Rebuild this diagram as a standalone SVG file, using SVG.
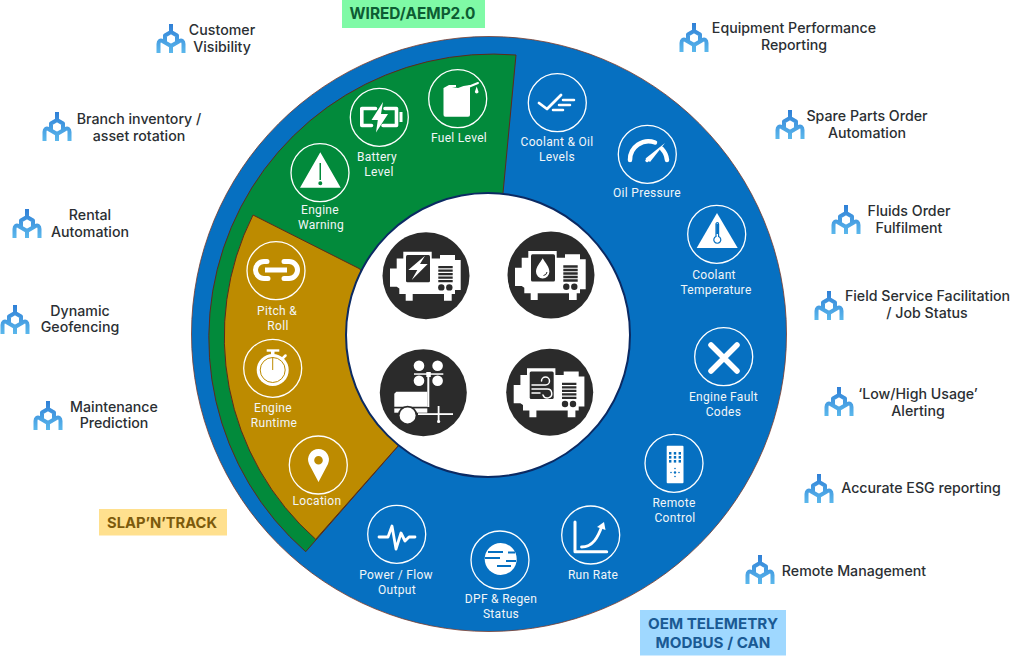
<svg xmlns="http://www.w3.org/2000/svg" xmlns:xlink="http://www.w3.org/1999/xlink" width="1024" height="661" viewBox="0 0 1024 661">
<style>
text{font-family:"Roboto","Liberation Sans",sans-serif}
.lb{font-family:"Inter","Roboto",sans-serif;font-size:14.2px;fill:#2b2f33;font-weight:500;text-anchor:middle}
.w{font-size:12px;fill:#f2f6f8;text-anchor:middle;letter-spacing:.3px}
.ring{fill:none;stroke:#fff;stroke-width:1.3}
.ic{fill:#fff}
.tag{font-family:"Inter","Roboto",sans-serif;font-size:14.700px;font-weight:700;text-anchor:middle}
.wl{fill:none;stroke:#fff;stroke-linecap:round;stroke-linejoin:round}
</style>
<defs>
<linearGradient id="hg" gradientUnits="userSpaceOnUse" x1="0" y1="-15" x2="0" y2="14"><stop offset="0" stop-color="#2f7fd6"/><stop offset="1" stop-color="#5bb8ec"/></linearGradient>
<g id="hub">
<path fill="none" stroke="url(#hg)" stroke-width="4" stroke-linejoin="round" stroke-linecap="butt" d="M0-15V-7M-6-3.500 0-7 6-3.500V3.500L0 7-6 3.500ZM-6 3.500-8.500 2C-10.500 .8-12.500 2-12.500 5V14M6 3.500 8.500 2C10.500 .8 12.500 2 12.500 5V14M0 7V14"/>
</g>
<g id="gen">
<circle r="43.500" fill="#2b2b2b"/>
<path fill="#fff" d="M-36-7.300H-29.300V-17.300H-22.700V-24H5.700V-17.300H14V-20.700H29V-15.700H34.700V14.300H29V18.300H25.700V25H18V18.300H-13.300V25H-20.300V18.300H-26.700V12.700L-29.300 11H-36Z"/>
<rect x="-20" y="-20.700" width="24" height="27.300" rx="1.500" fill="#2b2b2b"/>
<path stroke="#2b2b2b" stroke-width="2.300" d="M12.300-8.500H26.700M12.300-5H26.700M12.300-1.500H26.700M12.300 2H26.700M12.300 5.500H26.700" />
<circle cx="15.300" cy="11.700" r="3.200" fill="#2b2b2b"/><circle cx="23.300" cy="11.700" r="3.200" fill="#2b2b2b"/>
</g>
</defs>
<rect width="1024" height="661" fill="#fff"/>

<g id="dial">
<circle cx="489" cy="334" r="297.500" fill="#0670c1" stroke="#7a3a2a" stroke-width=".8"/>
<path id="wedge-green" fill="#028a3b" stroke="#5d2a1c" stroke-width="1" d="M516 55A284 284 0 0 0 305.700 551.700L420 421 503 193Z"/>
<path id="wedge-gold" fill="#bd8b00" stroke="#5d2a1c" stroke-width="1" d="M253 215A271 271 0 0 0 315.700 539.300L420 421 360 269Z"/>
<circle id="hubface" cx="488" cy="335" r="142" fill="#fff" stroke="#0b2a63" stroke-width="2"/>
</g>

<g id="gen-power"><use xlink:href="#gen" href="#gen" x="426" y="275.700"/>
<path class="ic" d="M425 255.700 408.300 270H417.300L411.700 280 427.700 264H420Z"/></g>
<g id="gen-fluid"><use xlink:href="#gen" href="#gen" x="551" y="275"/>
<path class="ic" d="M542.700 258.300C540 263 536 267 536 271.700A6.700 6.700 0 0 0 549.400 271.700C549.400 267 545.400 263 542.700 258.300Z"/><path fill="none" stroke="#2b2b2b" stroke-width="1" d="M547 272A4 4 0 0 1 543.500 275.500"/></g>
<g id="tower">
<circle cx="423.300" cy="392.700" r="43.500" fill="#2b2b2b"/>
<g fill="#fff"><circle cx="419" cy="365.700" r="5.300"/><circle cx="437.600" cy="365.700" r="5.300"/><circle cx="419" cy="380.700" r="5.300"/><circle cx="437.600" cy="380.700" r="5.300"/>
<rect x="414" y="373.300" width="29.300" height="1.500"/><rect x="426.300" y="372" width="4.500" height="5"/><rect x="427.300" y="376" width="2" height="31"/>
<path d="M396.300 391.700H427.300V406.700H394.300V393.700Z"/><rect x="394.300" y="408.400" width="33" height="4.300"/></g>
<circle cx="407.600" cy="415.400" r="9.700" fill="#2b2b2b"/>
<g fill="#fff"><circle cx="407.600" cy="415.400" r="8"/><rect x="418" y="413.200" width="35" height="1.800"/><rect x="437.700" y="406" width="1.800" height="15"/><circle cx="438.600" cy="421.500" r="1.600"/></g>
</g>
<g id="gen-air"><use xlink:href="#gen" href="#gen" x="549.700" y="392.300"/>
<path fill="none" stroke="#fff" stroke-width="1.500" stroke-linecap="round" d="M532 385H545.500A4 4 0 1 0 541.500 381M532 389H547A4.500 4.500 0 1 1 543 395M532 393H540"/></g>

<g id="n-fuel"><circle class="ring" cx="457.700" cy="98.700" r="29"/>
<path class="ic" d="M443.500 88 449 85H456V87H452L458 88 463.500 86 470 85V114.500A2 2 0 0 1 468 116.700H445.500A2 2 0 0 1 443.500 114.500Z"/><path class="wl" stroke-width="2" d="M467 87.500 478 83"/><path class="ic" d="M476.700 86.500 478.600 92A2 2 0 0 1 474.800 92Z"/>
<text class="w" x="459" y="142">Fuel Level</text></g>
<g id="n-battery"><circle class="ring" cx="379.300" cy="117.300" r="29"/>
<path class="wl" stroke-width="3.600" stroke-linecap="butt" stroke-linejoin="miter" d="M375.500 108.500H361.800V125.500H371.500M385 108.500H396.500V125.500H383"/><rect class="ic" x="399.500" y="112" width="3" height="10"/><path class="ic" d="M383 102 371.500 120H377.800L376 132.500 388 114H381Z"/>
<text class="w" x="377" y="161">Battery</text><text class="w" x="379" y="176">Level</text></g>
<g id="n-warning"><circle class="ring" cx="320" cy="172.700" r="29"/>
<path class="ic" fill-rule="evenodd" d="M320.300 152.300 340.700 187.700H300ZM319.500 163V180H321V163ZM320.300 181.300A2 2 0 1 0 320.300 185.300 2 2 0 1 0 320.300 181.300Z"/>
<text class="w" x="320" y="214">Engine</text><text class="w" x="321" y="229">Warning</text></g>

<g id="n-pitch"><circle class="ring" cx="276" cy="270.700" r="29"/>
<path class="wl" stroke-width="5" stroke-linecap="butt" d="M267 261.500H264A8.500 8.500 0 0 0 264 278.500H268M284 261.500H289A8.500 8.500 0 0 1 289 278.500H284"/><rect class="ic" x="265" y="267.500" width="22" height="5"/>
<text class="w" x="277" y="315">Pitch &amp;</text><text class="w" x="278" y="330">Roll</text></g>
<g id="n-runtime"><circle class="ring" cx="272.700" cy="368.300" r="29"/>
<circle class="ic" cx="272.700" cy="370" r="16"/><circle cx="272.700" cy="370" r="12.500" fill="none" stroke="#bd8b00" stroke-width="1"/><rect x="272.200" y="357" width="1" height="13" fill="#bd8b00"/>
<rect class="ic" x="266.700" y="349.300" width="12.600" height="2.400"/><rect class="ic" x="271" y="351" width="3.500" height="4"/><path class="wl" stroke-width="2.500" d="M283 358 285.500 355.500"/>
<text class="w" x="273" y="412">Engine</text><text class="w" x="274" y="427">Runtime</text></g>
<g id="n-location"><circle class="ring" cx="318.300" cy="465" r="29"/>
<path class="ic" fill-rule="evenodd" d="M318.500 482 309 464A10.500 10.500 0 1 1 328 464ZM318.500 456A4.300 4.300 0 1 0 318.500 464.600 4.300 4.300 0 1 0 318.500 456Z"/>
<text class="w" x="317" y="505">Location</text></g>

<g id="n-levels"><circle class="ring" cx="557.300" cy="102.700" r="29"/>
<path class="wl" stroke-width="2.800" stroke-linecap="butt" stroke-linejoin="miter" d="M539 103 547 109 561 95"/><path class="wl" stroke-width="2.500" stroke-linecap="butt" d="M563 100H574M559 105H570M553 110H563"/>
<text class="w" x="557" y="146">Coolant &amp; Oil</text><text class="w" x="557" y="161">Levels</text></g>
<g id="n-oil"><circle class="ring" cx="647.300" cy="154.300" r="29"/>
<path class="wl" stroke-width="4.500" stroke-linecap="butt" d="M630 160A18.500 18.500 0 0 1 655 142.500"/><path class="wl" stroke-width="4.500" stroke-linecap="butt" d="M662 149A18.500 18.500 0 0 1 667 160"/><path class="ic" d="M645.500 158.500 665 143 650 162Z"/><path class="wl" stroke-width="3.500" d="M647 160.500 650 158"/>
<text class="w" x="647" y="197">Oil Pressure</text></g>
<g id="n-temp"><circle class="ring" cx="716.700" cy="234.300" r="29"/>
<path class="ic" d="M717 213 737.700 248H696.700Z"/><path fill="#fff" stroke="#0670c1" stroke-width="1.200" d="M716 224A1.300 1.300 0 0 1 718.600 224V236.500A3.500 3.500 0 1 1 716 236.500Z"/><rect x="716.200" y="224" width="2.200" height="10" fill="#0670c1"/>
<text class="w" x="714" y="279">Coolant</text><text class="w" x="716" y="294">Temperature</text></g>
<g id="n-fault"><circle class="ring" cx="723.700" cy="356.700" r="29"/>
<path class="wl" stroke-width="5.500" stroke-linecap="butt" d="M711 345 737 371M737 345 711 371"/>
<text class="w" x="723.500" y="401">Engine Fault</text><text class="w" x="723.500" y="416">Codes</text></g>
<g id="n-remote"><circle class="ring" cx="674" cy="463.300" r="29"/>
<rect class="ic" x="666.700" y="445.700" width="16.800" height="37.600" rx="1"/>
<g fill="#0670c1"><rect x="669" y="452" width="2.400" height="2.600"/><rect x="673.800" y="452" width="2.400" height="2.600"/><rect x="678.600" y="452" width="2.400" height="2.600"/><rect x="669" y="456" width="2.400" height="2.600"/><rect x="673.800" y="456" width="2.400" height="2.600"/><rect x="678.600" y="456" width="2.400" height="2.600"/><rect x="669" y="460" width="2.400" height="2.600"/><rect x="673.800" y="460" width="2.400" height="2.600"/><rect x="678.600" y="460" width="2.400" height="2.600"/><circle cx="675" cy="468.500" r=".8"/><circle cx="675" cy="476.500" r=".8"/><circle cx="671" cy="472.500" r=".8"/><circle cx="679" cy="472.500" r=".8"/><circle cx="675" cy="472.500" r="1.200"/></g>
<text class="w" x="674" y="507">Remote</text><text class="w" x="675" y="522">Control</text></g>
<g id="n-run"><circle class="ring" cx="590.700" cy="535" r="29"/>
<path class="wl" stroke-width="3" stroke-linecap="butt" stroke-linejoin="miter" d="M575 522V551.700H606.700"/><path class="wl" stroke-width="2.800" stroke-linecap="butt" d="M581.500 547C593 547 598 537 602 526"/><path class="ic" d="M597 527 604 522 605.500 530Z"/>
<text class="w" x="593" y="579">Run Rate</text></g>
<g id="n-dpf"><circle class="ring" cx="500" cy="560" r="29"/>
<circle class="ic" cx="500.700" cy="559" r="16"/><path fill="none" stroke="#0670c1" stroke-width="1.800" d="M488 552H503M508 552.500H515M485 558H500M506 561H516M497 566H511"/>
<text class="w" x="501" y="603">DPF &amp; Regen</text><text class="w" x="501" y="618">Status</text></g>
<g id="n-power"><circle class="ring" cx="396.700" cy="534.300" r="29"/>
<path class="wl" stroke-width="2.800" d="M379 537H388L392 526 396 549 401 533 405 541 409 537H415"/>
<text class="w" x="396" y="579">Power / Flow</text><text class="w" x="397" y="594">Output</text></g>

<g id="t-wired"><rect x="342" y="0" width="143" height="28" fill="#7ffaa6"/><text class="tag" style="font-size:15.400px" x="412.500" y="19" fill="#0d5c33">WIRED/AEMP2.0</text></g>
<g id="t-slap"><rect x="99" y="509" width="128" height="26.500" fill="#ffe08e"/><text class="tag" x="162" y="527.500" fill="#7c5a0c">SLAP’N’TRACK</text></g>
<g id="t-oem"><rect x="640" y="610" width="146" height="45.500" fill="#9fd8ff"/><text class="tag" style="font-size:15.200px" x="713" y="629" fill="#1a5a94">OEM TELEMETRY</text><text class="tag" style="font-size:15.200px" x="713" y="648" fill="#1a5a94">MODBUS / CAN</text></g>

<g id="u-customer"><use xlink:href="#hub" href="#hub" x="171" y="39"/><text class="lb" x="222" y="35">Customer</text><text class="lb" x="222" y="52">Visibility</text></g>
<g id="u-branch"><use xlink:href="#hub" href="#hub" x="57" y="127"/><text class="lb" x="139" y="124">Branch inventory /</text><text class="lb" x="139" y="141">asset rotation</text></g>
<g id="u-rental"><use xlink:href="#hub" href="#hub" x="27" y="224"/><text class="lb" x="90" y="220">Rental</text><text class="lb" x="90" y="237">Automation</text></g>
<g id="u-geo"><use xlink:href="#hub" href="#hub" x="15" y="320"/><text class="lb" x="80" y="316">Dynamic</text><text class="lb" x="80" y="332">Geofencing</text></g>
<g id="u-maint"><use xlink:href="#hub" href="#hub" x="48" y="416"/><text class="lb" x="114" y="412">Maintenance</text><text class="lb" x="114" y="428">Prediction</text></g>
<g id="u-equip"><use xlink:href="#hub" href="#hub" x="694" y="38"/><text class="lb" x="794" y="33">Equipment Performance</text><text class="lb" x="794" y="50">Reporting</text></g>
<g id="u-spare"><use xlink:href="#hub" href="#hub" x="790" y="125"/><text class="lb" x="867" y="121">Spare Parts Order</text><text class="lb" x="867" y="138">Automation</text></g>
<g id="u-fluids"><use xlink:href="#hub" href="#hub" x="846" y="220"/><text class="lb" x="909" y="216">Fluids Order</text><text class="lb" x="909" y="233">Fulfilment</text></g>
<g id="u-field"><use xlink:href="#hub" href="#hub" x="829" y="306"/><text class="lb" x="927.500" y="301">Field Service Facilitation</text><text class="lb" x="927" y="318">/ Job Status</text></g>
<g id="u-low"><use xlink:href="#hub" href="#hub" x="839" y="402"/><text class="lb" x="918" y="399">‘Low/High Usage’</text><text class="lb" x="918" y="416">Alerting</text></g>
<g id="u-esg"><use xlink:href="#hub" href="#hub" x="819" y="489"/><text class="lb" x="921" y="493">Accurate ESG reporting</text></g>
<g id="u-remote"><use xlink:href="#hub" href="#hub" x="760" y="570"/><text class="lb" x="854" y="576">Remote Management</text></g>
</svg>
